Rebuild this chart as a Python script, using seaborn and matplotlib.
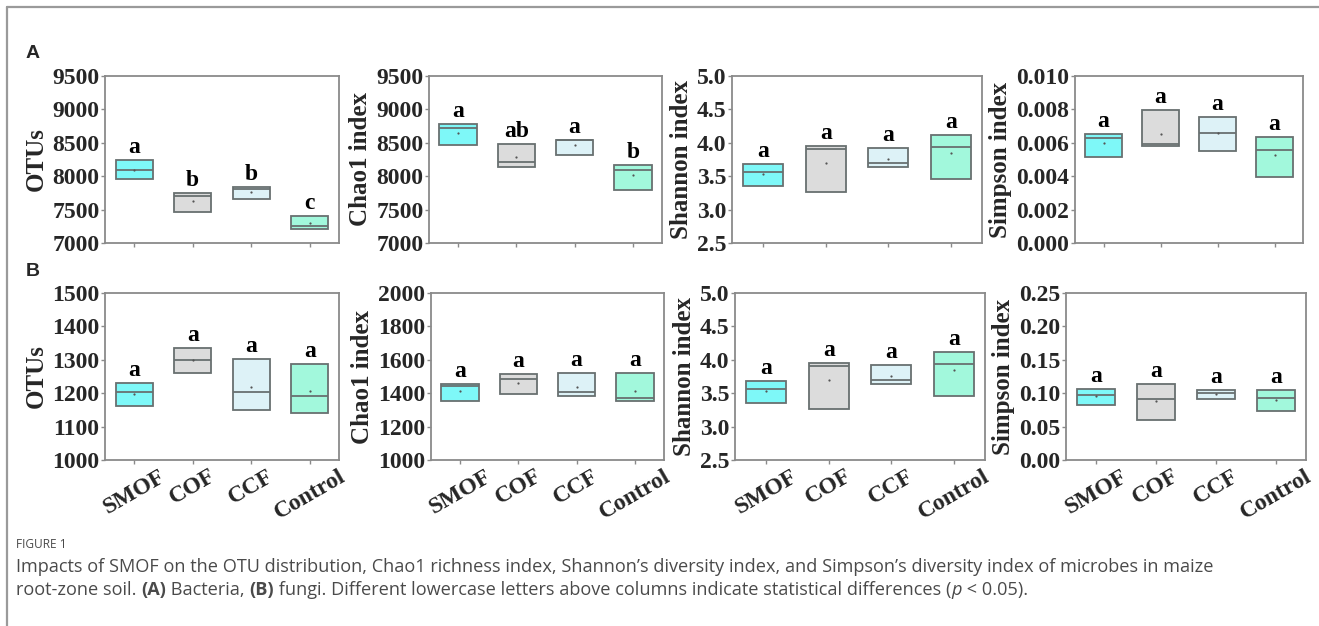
import numpy as np
import pandas as pd
import seaborn as sns
import matplotlib
matplotlib.use("Agg")
import matplotlib.pyplot as plt
from matplotlib.lines import Line2D

# ---------------- data ----------------
groups = ["SMOF", "COF", "CCF", "Control"]

# Row A (bacteria)
a_otu_low = [7960, 7470, 7660, 7210]
a_otu_med = [8100, 7700, 7810, 7255]
a_otu_up = [8240, 7745, 7835, 7410]
a_otu_mean = [8100, 7635, 7765, 7300]
a_otu_let = ["a", "b", "b", "c"]

a_chao_low = [8469, 8137, 8318, 7795]
a_chao_med = [8725, 8212, 8540, 8092]
a_chao_up = [8776, 8489, 8544, 8162]
a_chao_mean = [8650, 8283, 8469, 8016]
a_chao_let = ["a", "ab", "a", "b"]

a_sha_low = [3.35, 3.26, 3.635, 3.465]
a_sha_med = [3.57, 3.90, 3.70, 3.935]
a_sha_up = [3.68, 3.95, 3.925, 4.12]
a_sha_mean = [3.53, 3.705, 3.755, 3.84]
a_sha_let = ["a", "a", "a", "a"]

a_sim_low = [0.00513, 0.00578, 0.00549, 0.00396]
a_sim_med = [0.00628, 0.00590, 0.00660, 0.00557]
a_sim_up = [0.00654, 0.00795, 0.00757, 0.00632]
a_sim_mean = [0.00598, 0.00654, 0.00658, 0.00529]
a_sim_let = ["a", "a", "a", "a"]

# Row B (fungi)
b_otu_low = [1162, 1261, 1149, 1141]
b_otu_med = [1203, 1300, 1205, 1193]
b_otu_up = [1231, 1335, 1303, 1286]
b_otu_mean = [1198, 1298, 1219, 1207]
b_otu_let = ["a", "a", "a", "a"]

b_chao_low = [1356, 1395, 1385, 1355]
b_chao_med = [1445, 1485, 1407, 1372]
b_chao_up = [1453, 1513, 1521, 1519]
b_chao_mean = [1415, 1463, 1439, 1415]
b_chao_let = ["a", "a", "a", "a"]

b_sha_low = [3.35, 3.26, 3.635, 3.465]
b_sha_med = [3.57, 3.90, 3.70, 3.935]
b_sha_up = [3.68, 3.95, 3.925, 4.12]
b_sha_mean = [3.53, 3.705, 3.755, 3.84]
b_sha_let = ["a", "a", "a", "a"]

b_sim_low = [0.083, 0.0595, 0.0915, 0.0735]
b_sim_med = [0.0975, 0.091, 0.100, 0.0935]
b_sim_up = [0.107, 0.1145, 0.105, 0.1055]
b_sim_mean = [0.096, 0.088, 0.0995, 0.0905]
b_sim_let = ["a", "a", "a", "a"]

ylabels = ["OTUs", "Chao1 index", "Shannon index", "Simpson index"]
a_ylims = [(7000, 9500), (7000, 9500), (2.5, 5.0), (0.0, 0.010)]
a_yticks = [np.arange(7000, 9501, 500), np.arange(7000, 9501, 500),
            np.arange(2.5, 5.01, 0.5), np.arange(0, 0.0101, 0.002)]
a_fmt = ["{:.0f}", "{:.0f}", "{:.1f}", "{:.3f}"]
b_ylims = [(1000, 1500), (1000, 2000), (2.5, 5.0), (0.0, 0.25)]
b_yticks = [np.arange(1000, 1501, 100), np.arange(1000, 2001, 200),
            np.arange(2.5, 5.01, 0.5), np.arange(0, 0.2501, 0.05)]
b_fmt = ["{:.0f}", "{:.0f}", "{:.1f}", "{:.2f}"]

colors = ["#7ef8f8", "#dcdcdc", "#ddf2f7", "#a2f8dc"]

# ---------------- figure ----------------
sns.set_theme(style="white")
plt.rcParams["font.family"] = ["Liberation Serif", "DejaVu Serif"]

W, H = 1319, 626
fig = plt.figure(figsize=(W / 100, H / 100), dpi=100)


def rect(x0, x1, ytop, ybot):
    return [x0 / W, 1 - ybot / H, (x1 - x0) / W, (ybot - ytop) / H]


a_rects = [rect(105, 339, 76, 243), rect(429, 662, 76, 243),
           rect(732, 982, 76, 243), rect(1075, 1303, 76, 243)]
b_rects = [rect(105, 339, 293, 460), rect(431, 664, 293, 460),
           rect(735, 985, 293, 460), rect(1066, 1306, 293, 460)]

spine_c = "#8a8a8a"
edge_c = "#687070"


def panel(r, low, med, up, mean, lets, ylabel, ylim, yticks, fmt, show_x):
    ax = fig.add_axes(r)
    rows = []
    for g, l, m, u in zip(groups, low, med, up):
        for v in (l, l, m, u, u):
            rows.append((g, v))
    df = pd.DataFrame(rows, columns=["group", "value"])
    sns.boxplot(data=df, x="group", y="value", hue="group", order=groups,
                hue_order=groups, palette=colors, saturation=1, width=0.64,
                whis=(0, 100), linewidth=1.3, linecolor=edge_c,
                showcaps=False, fliersize=0, legend=False, ax=ax)
    mdf = pd.DataFrame({"group": groups, "mean": mean})
    sns.stripplot(data=mdf, x="group", y="mean", order=groups, jitter=False,
                  size=1.6, color="#555555", ax=ax)
    yr = ylim[1] - ylim[0]
    for i, (u, t) in enumerate(zip(up, lets)):
        ax.text(i, u + yr * 0.012, t, ha="center", va="bottom",
                fontsize=17, fontweight="bold", color="black")
    ax.set_xlim(-0.5, 3.5)
    ax.set_ylim(*ylim)
    ax.set_yticks(yticks)
    ax.set_yticklabels([fmt.format(v) for v in yticks], fontsize=17,
                       fontweight="bold")
    ax.set_ylabel(ylabel, fontsize=18, fontweight="bold", labelpad=3)
    ax.set_xlabel("")
    ax.set_xticks(range(4))
    if show_x:
        ax.set_xticklabels(groups, rotation=30, ha="center", fontsize=17,
                           fontweight="bold")
    else:
        ax.set_xticklabels([])
    ax.tick_params(axis="y", length=3, width=1, color=spine_c, pad=1, left=True)
    ax.tick_params(axis="x", length=3, width=1, color=spine_c, pad=1,
                   bottom=True)
    for s in ax.spines.values():
        s.set_color(spine_c)
        s.set_linewidth(1.3)
    return ax


A = [(a_otu_low, a_otu_med, a_otu_up, a_otu_mean, a_otu_let),
     (a_chao_low, a_chao_med, a_chao_up, a_chao_mean, a_chao_let),
     (a_sha_low, a_sha_med, a_sha_up, a_sha_mean, a_sha_let),
     (a_sim_low, a_sim_med, a_sim_up, a_sim_mean, a_sim_let)]
B = [(b_otu_low, b_otu_med, b_otu_up, b_otu_mean, b_otu_let),
     (b_chao_low, b_chao_med, b_chao_up, b_chao_mean, b_chao_let),
     (b_sha_low, b_sha_med, b_sha_up, b_sha_mean, b_sha_let),
     (b_sim_low, b_sim_med, b_sim_up, b_sim_mean, b_sim_let)]

for k in range(4):
    panel(a_rects[k], *A[k], ylabels[k], a_ylims[k], a_yticks[k], a_fmt[k],
          False)
    panel(b_rects[k], *B[k], ylabels[k], b_ylims[k], b_yticks[k], b_fmt[k],
          True)

# panel letters
fig.text(26 / W, 1 - 54 / H, "A", fontsize=14, fontweight="bold",
         family=["Liberation Sans", "DejaVu Sans"], va="center")
fig.text(26 / W, 1 - 272 / H, "B", fontsize=14, fontweight="bold",
         family=["Liberation Sans", "DejaVu Sans"], va="center")

# frame lines
fig.add_artist(Line2D([7 / W, 7 / W], [0, 1 - 7 / H], color="#9a9a9a",
                      lw=1.6, transform=fig.transFigure))
fig.add_artist(Line2D([7 / W, 1], [1 - 7 / H, 1 - 7 / H], color="#9a9a9a",
                      lw=1.6, transform=fig.transFigure))

# caption
cap_font = ["Open Sans", "DejaVu Sans"]
cap_c = "#4a4a4a"
cap_fs = 13.1
fig.text(16 / W, 1 - 545 / H, "FIGURE 1", fontsize=8.6, family=cap_font,
         color=cap_c, va="center")
fig.text(16 / W, 1 - 567 / H,
         "Impacts of SMOF on the OTU distribution, Chao1 richness index, "
         "Shannon\u2019s diversity index, and Simpson\u2019s diversity index "
         "of microbes in maize",
         fontsize=cap_fs, family=cap_font, color=cap_c, va="center")

renderer = fig.canvas.get_renderer()
pieces = [("root-zone soil. ", "normal", "normal"),
          ("(A)", "bold", "normal"),
          (" Bacteria, ", "normal", "normal"),
          ("(B)", "bold", "normal"),
          (" fungi. Different lowercase letters above columns indicate "
           "statistical differences (", "normal", "normal"),
          ("p", "normal", "italic"),
          (" < 0.05).", "normal", "normal")]
x = 16
for txt, fw, st in pieces:
    t = fig.text(x / W, 1 - 590 / H, txt, fontsize=cap_fs, family=cap_font,
                 color=cap_c, va="center", fontweight=fw, style=st)
    bb = t.get_window_extent(renderer=renderer)
    x += bb.width

fig.savefig("out.png", dpi=100)
